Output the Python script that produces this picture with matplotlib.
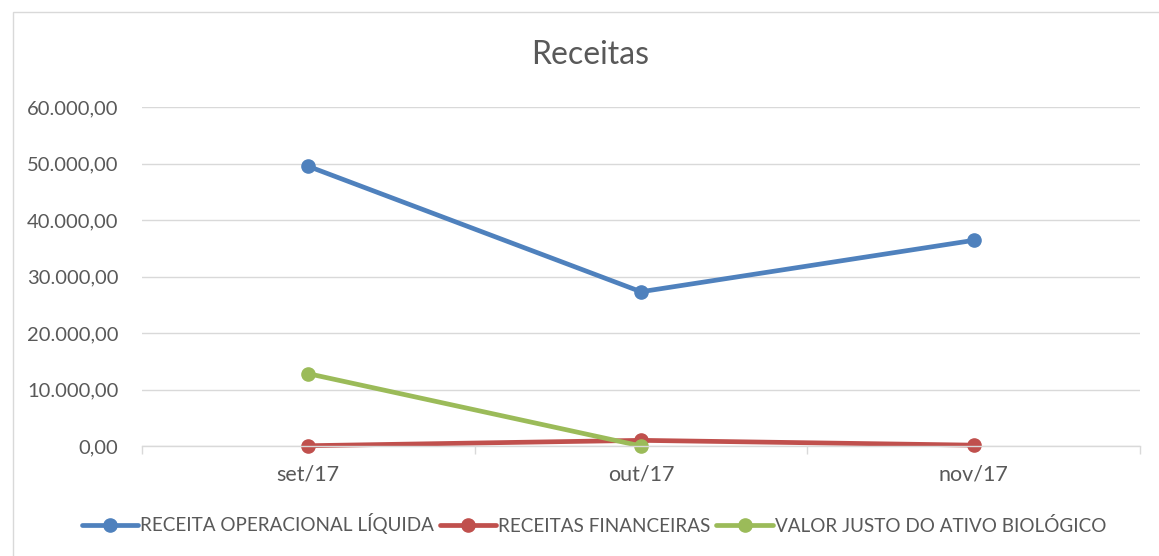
import matplotlib
matplotlib.use('Agg')
import matplotlib.pyplot as plt
from matplotlib.patches import Rectangle
from matplotlib.ticker import FuncFormatter, MultipleLocator, FixedLocator

plt.rcParams['font.family'] = ['Lato', 'DejaVu Sans']

# Data
months = ['set/17', 'out/17', 'nov/17']
receita_operacional = [49500, 27300, 36400]
receitas_financeiras = [50, 1000, 150]
valor_justo = [12800, 0]

BLUE = '#4F81BD'
RED = '#C0504D'
GREEN = '#9BBB59'
TEXT = '#595959'
GRID = '#D9D9D9'


def br_fmt(v, pos):
    s = f'{v:,.2f}'
    return s.replace(',', 'X').replace('.', ',').replace('X', '.')


fig = plt.figure(figsize=(11.59, 5.56), dpi=100)
fig.patches.append(Rectangle((13 / 1159, -0.05), 1.2, 1 - 12 / 556 + 0.05,
                             transform=fig.transFigure, fill=False,
                             edgecolor=GRID, lw=1))
ax = fig.add_axes([142 / 1159, 1 - 446 / 556, (1140 - 142) / 1159, (446 - 107) / 556])

x = list(range(len(months)))
line_kw = dict(lw=3.4, marker='o', markersize=9.5, solid_capstyle='round', clip_on=False)
ax.plot(x, receita_operacional, color=BLUE, label='RECEITA OPERACIONAL LÍQUIDA', **line_kw)
ax.plot(x, receitas_financeiras, color=RED, label='RECEITAS FINANCEIRAS', **line_kw)
ax.plot(x[:len(valor_justo)], valor_justo, color=GREEN, label='VALOR JUSTO DO ATIVO BIOLÓGICO', **line_kw)

ax.set_xlim(-0.5, len(months) - 0.5)
ax.set_ylim(0, 60000)
ax.yaxis.set_major_locator(MultipleLocator(10000))
ax.yaxis.set_major_formatter(FuncFormatter(br_fmt))
ax.set_xticks(x)
ax.set_xticklabels(months)
ax.xaxis.set_minor_locator(FixedLocator([i - 0.5 for i in range(len(months) + 1)]))

ax.tick_params(axis='x', which='major', length=0, pad=13, labelsize=15.5, labelcolor=TEXT)
ax.tick_params(axis='x', which='minor', length=6, color=GRID, width=1)
ax.tick_params(axis='y', length=0, pad=17, labelsize=14.5, labelcolor=TEXT)

ax.grid(axis='y', color=GRID, lw=1)
ax.set_axisbelow(True)
for side in ['top', 'right', 'left']:
    ax.spines[side].set_visible(False)
ax.spines['bottom'].set_color(GRID)
ax.spines['bottom'].set_linewidth(1)

fig.text(590 / 1159, 1 - 55 / 556, 'Receitas', ha='center', va='center', fontsize=23, color=TEXT)

fig.legend(loc='center', bbox_to_anchor=(594 / 1159, 1 - 524 / 556), ncol=3,
           frameon=False, fontsize=13.6, labelcolor=TEXT, handlelength=3.0,
           handletextpad=0.1, columnspacing=0.3, borderaxespad=0)

fig.savefig('out.png', dpi=100)
